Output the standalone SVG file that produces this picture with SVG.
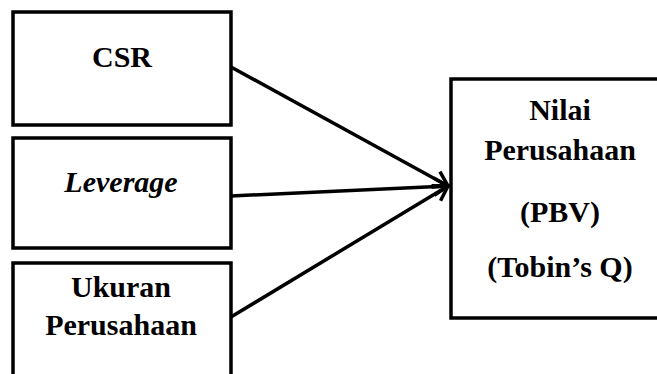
<svg xmlns="http://www.w3.org/2000/svg" width="657" height="374" viewBox="0 0 657 374">
<style>
.box{fill:#fff;stroke:#000;stroke-width:3.5}
.c{stroke:#000;stroke-width:3.5;fill:none}
</style>
<defs>
<marker id="ah" markerWidth="6" markerHeight="6" refX="5" refY="3" orient="auto" markerUnits="strokeWidth" viewBox="0 0 6 6">
<path d="M1,0.5 L5,3 L1,5.5" fill="none" stroke="#000" stroke-width="1"/>
</marker>
</defs>
<rect width="657" height="374" fill="#fff"/>
<g id="connectors">
<line class="c" x1="231" y1="67" x2="448" y2="186" marker-end="url(#ah)"/>
<line class="c" x1="231" y1="196" x2="448" y2="186" marker-end="url(#ah)"/>
<line class="c" x1="231" y1="317" x2="448" y2="186" marker-end="url(#ah)"/>
</g>
<g font-family="Liberation Serif, serif" font-weight="bold" font-size="30" text-anchor="middle" fill="#000">
<g id="csr">
<rect class="box" x="13" y="12" width="218" height="113"/>
<text x="122" y="67">CSR</text>
</g>
<g id="leverage">
<rect class="box" x="13" y="138" width="218" height="110"/>
<text x="121" y="192" font-style="italic">Leverage</text>
</g>
<g id="ukuran">
<rect class="box" x="13" y="263" width="218" height="130"/>
<text x="121" y="297">Ukuran</text>
<text x="121" y="335">Perusahaan</text>
</g>
<g id="nilai">
<rect class="box" x="451" y="79" width="230" height="239"/>
<text x="560" y="120">Nilai</text>
<text x="560" y="160">Perusahaan</text>
<text x="560" y="222">(PBV)</text>
<text x="560" y="277">(Tobin’s Q)</text>
</g>
</g>
</svg>
